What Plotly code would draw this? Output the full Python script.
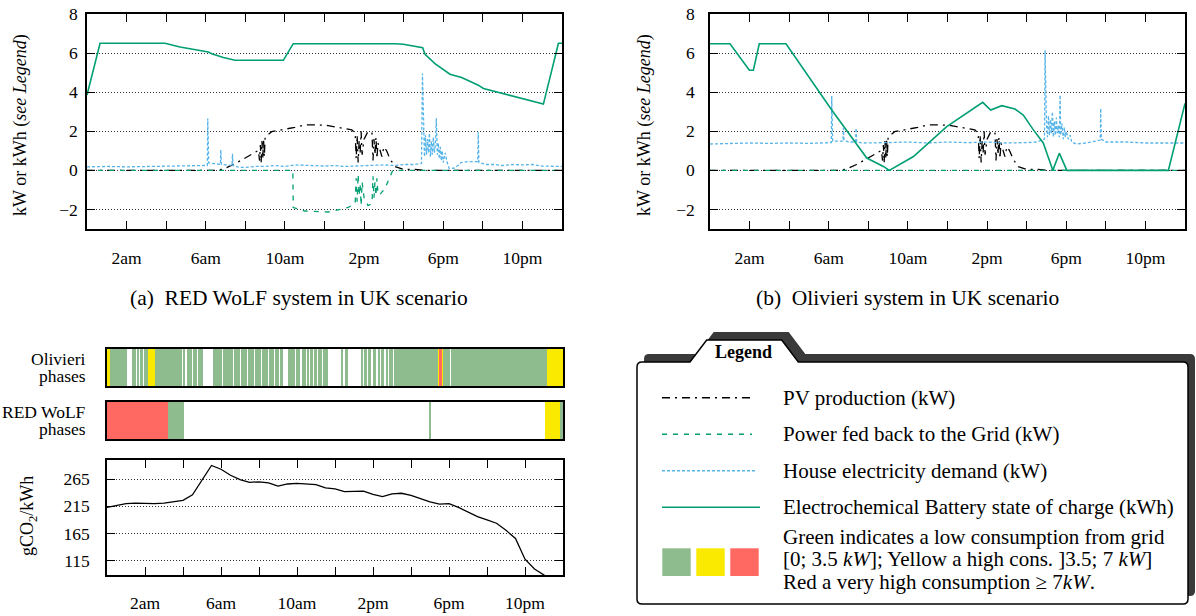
import plotly.graph_objects as go

W, H = 1196, 616
SERIF = "Liberation Serif"
GREEN = "#009E73"
BLUE = "#56B4E9"
PH_COLORS = {"G": "#8fbc8f", "Y": "#f9ea00", "R": "#ff6961"}

# ------------------------------------------------------------------ data
hour_ticks = [2, 4, 6, 8, 10, 12, 14, 16, 18, 20, 22]
hour_tick_labels = ["2am", "", "6am", "", "10am", "", "2pm", "", "6pm", "", "10pm"]
power_ticks = [-2, 0, 2, 4, 6, 8]
co2_ticks = [115, 165, 215, 265]

# PV production (kW), same for both systems
pv_hours = [0, 6.5, 6.9, 7.4, 7.9, 8.3, 8.66, 8.72, 8.76, 8.8, 8.84, 8.88, 8.92, 8.96, 9.0,
            9.33, 9.84, 10.5, 11.0, 11.6, 12.19, 12.87, 13.38, 13.55, 13.6, 13.65, 13.7, 13.75,
            13.8, 13.85, 13.9, 14.0, 14.2, 14.4, 14.45, 14.5, 14.55, 14.6, 14.65, 14.7, 14.8,
            14.9, 15.0, 15.14, 15.3, 15.56, 16.0, 16.57, 17.0, 24]
pv_kw = [0, 0, 0.07, 0.3, 0.58, 0.8, 1.02, 0.5, 1.3, 0.4, 1.5, 0.6, 1.6, 0.7, 1.7,
         1.98, 2.07, 2.2, 2.33, 2.33, 2.29, 2.16, 2.07, 1.9, 0.6, 1.8, 0.4, 1.5,
         0.9, 2.0, 0.8, 1.6, 2.0, 1.9, 0.5, 1.6, 0.8, 1.7, 0.6, 1.4, 1.0,
         0.7, 1.2, 1.0, 0.6, 0.2, 0.05, 0.05, 0, 0]

# RED WoLF system
redwolf_grid_hours = [0, 10.40, 10.42, 11.0, 12.2, 13.2, 13.55, 13.6, 13.65, 13.7, 13.75, 13.8,
                      13.85, 13.9, 14.0, 14.2, 14.4, 14.45, 14.5, 14.55, 14.6, 14.65, 14.7, 14.8,
                      14.9, 15.03, 15.45, 24]
redwolf_grid_kw = [0, 0, -1.9, -2.08, -2.13, -1.9, -1.7, -0.4, -1.6, -0.2, -1.3, -0.7,
                   -1.8, -0.6, -1.4, -1.8, -1.7, -0.3, -1.4, -0.6, -1.3, -0.4, -1.2, -1.25,
                   -1.1, -0.98, 0, 0]
redwolf_demand_hours = [0, 1, 2, 3, 4, 5, 6.08, 6.1, 6.12, 6.15, 6.4, 6.74, 6.76, 6.79, 7.0,
                        7.33, 7.35, 7.38, 7.7, 8.0, 8.5, 9.0, 9.5, 10.0, 10.5, 11.0, 11.5, 12.0,
                        12.5, 13.0, 13.5, 14.0, 14.5, 15.0, 15.5, 16.0, 16.5, 16.9, 16.95, 17.0,
                        17.05, 17.1, 17.15, 17.2, 17.25, 17.3, 17.35, 17.4, 17.45, 17.5, 17.55,
                        17.6, 17.65, 17.7, 17.75, 17.8, 17.85, 17.9, 17.95, 18.0, 18.1, 18.2,
                        18.3, 18.6, 18.9, 19.3, 19.74, 19.77, 19.8, 20.2, 20.6, 21.0, 21.5, 22.0,
                        22.5, 23.0, 23.5, 24]
redwolf_demand_kw = [0.18, 0.2, 0.18, 0.2, 0.2, 0.22, 0.25, 2.65, 0.4, 0.38, 0.35, 0.3, 1.05, 0.3, 0.28,
                     0.25, 0.85, 0.25, 0.15, 0.15, 0.2, 0.2, 0.25, 0.2, 0.28, 0.25, 0.25, 0.22,
                     0.25, 0.2, 0.22, 0.25, 0.25, 0.28, 0.25, 0.3, 0.3, 0.35, 4.95, 1.6,
                     0.7, 1.8, 0.8, 1.6, 0.9, 1.9, 0.7, 1.5, 0.8, 1.7, 0.9,
                     1.3, 2.67, 0.8, 1.4, 0.6, 1.2, 0.5, 1.0, 0.4, 0.9, 0.4,
                     0.1, 0.12, 0.4, 0.45, 0.45, 1.95, 0.4, 0.3, 0.3, 0.25, 0.3, 0.28,
                     0.3, 0.22, 0.2, 0.2]
redwolf_battery_hours = [0, 0.66, 3.94, 4.7, 6.13, 6.3, 6.89, 7.48, 9.92, 10.42, 15.56, 15.98,
                         16.96, 17.08, 17.58, 18.34, 18.93, 19.77, 20.03, 23.06, 23.82, 24]
redwolf_battery_kwh = [3.85, 6.5, 6.5, 6.31, 6.06, 5.97, 5.77, 5.63, 5.63, 6.48, 6.48, 6.45,
                       6.28, 5.94, 5.46, 4.92, 4.75, 4.36, 4.19, 3.39, 6.5, 6.5]

# Olivieri system
olivieri_grid_hours = [0, 24]
olivieri_grid_kw = [0, 0]
olivieri_demand_hours = [0, 1, 2, 3, 4, 5, 6.13, 6.15, 6.17, 6.2, 6.5, 6.72, 6.74, 6.77, 7.0,
                         7.36, 7.38, 7.41, 7.7, 8, 9, 10, 11, 12, 13, 14, 15, 16, 16.5,
                         16.9, 16.93, 17.0, 17.05, 17.1, 17.15, 17.2, 17.25, 17.3, 17.35,
                         17.4, 17.45, 17.5, 17.55, 17.6, 17.65, 17.69, 17.72, 17.78, 17.85,
                         17.9, 17.95, 18.0, 18.1, 18.2, 18.27, 18.5, 19.0, 19.5, 19.72,
                         19.74, 19.77, 20, 21, 22, 23, 24]
olivieri_demand_kw = [1.35, 1.38, 1.4, 1.38, 1.4, 1.38, 1.42, 3.8, 1.5, 1.5, 1.5, 1.5, 2.16, 1.55, 1.45,
                      1.45, 2.16, 1.45, 1.4, 1.4, 1.42, 1.45, 1.4, 1.45, 1.42, 1.45, 1.4, 1.42, 1.45,
                      1.6, 6.14, 2.4, 1.7, 2.8, 1.8, 2.6, 1.9, 3.0, 1.7,
                      2.5, 1.8, 2.7, 1.9, 2.3, 1.7, 3.85, 1.8, 2.4, 1.6,
                      2.2, 1.7, 2.0, 1.6, 1.8, 1.45, 1.35, 1.4, 1.5, 1.55,
                      3.17, 1.6, 1.45, 1.45, 1.4, 1.4, 1.4]
olivieri_battery_hours = [0, 1.01, 1.99, 2.19, 2.49, 3.84, 6.15, 7.92, 8.76, 9.06, 10.28, 11.96,
                          13.78, 14.18, 14.74, 15.41, 15.66, 15.83, 16.34, 16.84, 17.32, 17.65,
                          18.03, 23.16, 24]
olivieri_battery_kwh = [6.48, 6.48, 5.12, 5.12, 6.48, 6.48, 3.09, 0.63, 0.2, 0.0, 0.71, 2.24,
                        3.48, 3.09, 3.31, 3.14, 2.95, 2.83, 2.07, 1.4, 0, 0.88,
                        0, 0, 3.43]

# consumption phases: (start hour, end hour, level G/Y/R)
olivieri_phases = [
    (0.00, 0.16, "Y"), (0.16, 1.07, "G"), (1.30, 1.42, "G"), (1.47, 1.55, "G"), (1.61, 1.71, "G"),
    (1.76, 1.92, "G"), (1.97, 2.17, "G"), (2.17, 2.53, "Y"), (2.53, 3.93, "G"), (3.98, 4.11, "G"),
    (4.19, 4.46, "G"), (4.54, 4.72, "G"), (4.81, 5.07, "G"), (5.59, 5.87, "G"), (5.92, 6.07, "G"),
    (6.12, 6.63, "G"), (6.68, 6.98, "G"), (7.03, 7.36, "G"), (7.41, 7.72, "G"), (7.77, 8.09, "G"),
    (8.14, 8.47, "G"), (8.52, 8.77, "G"), (8.82, 9.05, "G"), (9.10, 9.28, "G"), (9.54, 9.66, "G"),
    (9.71, 9.89, "G"), (9.97, 10.16, "G"), (10.24, 10.45, "G"), (10.53, 10.63, "G"),
    (10.68, 10.84, "G"), (10.92, 11.05, "G"), (11.13, 11.32, "G"), (11.37, 11.63, "G"),
    (12.35, 12.44, "G"), (12.53, 12.66, "G"), (13.41, 13.49, "G"), (13.55, 13.68, "G"),
    (13.74, 13.92, "G"), (14.00, 14.16, "G"), (14.24, 14.37, "G"), (14.42, 14.58, "G"),
    (14.66, 14.79, "G"), (14.84, 15.05, "G"), (15.11, 17.44, "G"), (17.44, 17.49, "Y"),
    (17.49, 17.62, "R"), (17.62, 17.67, "Y"), (17.67, 18.03, "G"), (18.08, 23.14, "G"),
    (23.14, 24.00, "Y"),
]
redwolf_phases = [
    (0.00, 3.21, "R"), (3.21, 4.05, "G"), (16.95, 17.02, "G"), (23.05, 23.84, "Y"), (23.84, 24.00, "G"),
]

# carbon intensity of the grid (gCO2/kWh)
co2_hours = [0, 0.5, 1, 1.5, 2, 2.5, 3, 3.5, 4, 4.5, 5, 5.5, 6, 6.5, 7, 7.5, 8, 8.5, 9, 9.5,
             10, 10.5, 11, 11.5, 12, 12.5, 13, 13.5, 14, 14.5, 15, 15.5, 16, 16.5, 17, 17.5,
             18, 18.5, 19, 19.5, 20, 20.5, 21, 21.5, 22, 22.5, 23, 23.5]
co2_g_per_kwh = [213, 216, 220, 221, 220, 220, 221, 223, 226, 236, 262, 290, 283, 272, 264, 259,
                 260, 258, 252, 256, 257, 256, 255, 249, 247, 242, 242, 243, 237, 233, 238, 239,
                 235, 229, 223, 219, 220, 213, 205, 196, 190, 184, 171, 156, 118, 100, 89, 70]

legend_labels = ["PV production (kW)", "Power fed back to the Grid (kW)",
                 "House electricity demand (kW)", "Electrochemical Battery state of charge (kWh)"]


# ------------------------------------------------------------------ helpers
def px(x):
    return x / W


def py(y):
    return 1 - y / H


fig = go.Figure()

PV_DASH = "8px,5px,2px,5px"
GRID_DASH = "5px,6px"
DEM_DASH = "3px,2px"


def add_line(xa, ya, hours, vals, color, dash, width):
    fig.add_trace(go.Scatter(x=hours, y=vals, mode="lines", xaxis=xa, yaxis=ya,
                             line=dict(color=color, dash=dash, width=width),
                             showlegend=False, hoverinfo="skip"))


for xa, ya, grid_h, grid_v, dem_h, dem_v, bat_h, bat_v in [
    ("x", "y", redwolf_grid_hours, redwolf_grid_kw, redwolf_demand_hours, redwolf_demand_kw,
     redwolf_battery_hours, redwolf_battery_kwh),
    ("x2", "y2", olivieri_grid_hours, olivieri_grid_kw, olivieri_demand_hours, olivieri_demand_kw,
     olivieri_battery_hours, olivieri_battery_kwh),
]:
    add_line(xa, ya, pv_hours, pv_kw, "black", PV_DASH, 1.3)
    add_line(xa, ya, grid_h, grid_v, GREEN, GRID_DASH, 1.3)
    add_line(xa, ya, dem_h, dem_v, BLUE, DEM_DASH, 1.3)
    add_line(xa, ya, bat_h, bat_v, GREEN, "solid", 1.6)

# phase bars
for xa, ya, phases in [("x3", "y3", olivieri_phases), ("x4", "y4", redwolf_phases)]:
    for lvl in ["G", "Y", "R"]:
        segs = [(s, e) for s, e, l in phases if l == lvl]
        if not segs:
            continue
        fig.add_trace(go.Bar(orientation="h", y=[0] * len(segs), base=[s for s, e in segs],
                             x=[e - s for s, e in segs], width=1, xaxis=xa, yaxis=ya,
                             marker=dict(color=PH_COLORS[lvl], line=dict(width=0)),
                             showlegend=False, hoverinfo="skip"))

add_line("x5", "y5", co2_hours, co2_g_per_kwh, "black", "solid", 1.3)

# ------------------------------------------------------------------ axes
TICKFONT = dict(family=SERIF, size=17.5, color="black")


def xax(x0, x1, y_anchor, labels=True, standoff=6, **kw):
    d = dict(domain=[px(x0), px(x1)], anchor=y_anchor, range=[0, 24], showline=True,
             linecolor="black", linewidth=1.5, mirror="ticks", ticks="inside", ticklen=8,
             tickwidth=1, tickcolor="black", showgrid=False, zeroline=False,
             tickvals=hour_ticks, ticktext=hour_tick_labels, tickfont=TICKFONT,
             ticklabelstandoff=standoff, fixedrange=True, automargin=False)
    if not labels:
        d.update(ticks="", showticklabels=False, mirror=True, linewidth=2, tickvals=[],
                 ticktext=[])
    d.update(kw)
    return d


def yax(y0, y1, x_anchor, rng, ticks, standoff=6, grid=True):
    return dict(domain=[py(y1), py(y0)], anchor=x_anchor, range=rng, showline=True,
                linecolor="black", linewidth=1.5, mirror="ticks", ticks="inside", ticklen=8,
                tickwidth=1, tickcolor="black", showgrid=grid, gridcolor="#333333",
                griddash="1px,2px", gridwidth=1, zeroline=False, tickvals=ticks,
                tickfont=TICKFONT, ticklabelstandoff=standoff, fixedrange=True,
                automargin=False)


def bar_y(y0, y1, x_anchor):
    return dict(domain=[py(y1), py(y0)], anchor=x_anchor, range=[-0.5, 0.5], showline=True,
                linecolor="black", linewidth=2, mirror=True, ticks="", showticklabels=False,
                showgrid=False, zeroline=False, fixedrange=True, automargin=False)


layout = dict(
    template="none",
    width=W, height=H, autosize=False, margin=dict(l=0, r=0, t=0, b=0, pad=0),
    font=dict(family=SERIF, color="black", size=17.5),
    paper_bgcolor="white", plot_bgcolor="white", barmode="overlay", bargap=0,
    showlegend=False,
    xaxis=xax(87, 562, "y", standoff=12),
    yaxis=yax(14, 229, "x", [-3, 8], power_ticks, standoff=4),
    xaxis2=xax(710, 1185, "y2", standoff=12),
    yaxis2=yax(14, 229, "x2", [-3, 8], power_ticks, standoff=10),
    xaxis3=xax(107, 563, "y3", labels=False),
    yaxis3=bar_y(349, 386, "x3"),
    xaxis4=xax(107, 563, "y4", labels=False),
    yaxis4=bar_y(402, 439, "x4"),
    xaxis5=xax(107, 563, "y5", standoff=11),
    yaxis5=yax(460, 575, "x5", [89, 300], co2_ticks, standoff=12),
)

# ------------------------------------------------------------------ annotations
ann = []


def text(x, y, s, size=18, xanchor="center", yanchor="middle", angle=0):
    ann.append(dict(x=px(x), y=py(y), xref="paper", yref="paper", text=s, showarrow=False,
                    xanchor=xanchor, yanchor=yanchor, textangle=angle,
                    font=dict(family=SERIF, size=size, color="black")))


text(20, 125, "kW or kWh (<i>see Legend</i>)", size=18, angle=-90)
text(644, 125, "kW or kWh (<i>see Legend</i>)", size=18, angle=-90)
text(299, 298, "(a)\u00a0\u00a0RED WoLF system in UK scenario", size=21.5)
text(907, 298, "(b)\u00a0\u00a0Olivieri system in UK scenario", size=21.5)
text(87.5, 359, "Olivieri", size=17.5, xanchor="right")
text(87.5, 376, "phases", size=17.5, xanchor="right")
text(87.5, 412, "RED WoLF", size=17.5, xanchor="right")
text(87.5, 429, "phases", size=17.5, xanchor="right")
text(28, 516, "gCO<sub>2</sub>/kWh", size=18, angle=-90)

# legend box
shapes = []


def P(x, y):
    return f"{px(x):.5f},{py(y):.5f}"


def box_path(dx, dy):
    r = 5
    L, T, R, B = 637 + dx, 362 + dy, 1188 + dx, 604 + dy
    a, b, c, d = 690 + dx, 706.7 + dx, 781.7 + dx, 798.3 + dx
    tt = 340 + dy
    return (f"M {P(L, T + r)} Q {P(L, T)} {P(L + r, T)} L {P(a, T)} L {P(b, tt)} "
            f"L {P(c, tt)} L {P(d, T)} L {P(R - r, T)} Q {P(R, T)} {P(R, T + r)} "
            f"L {P(R, B - r)} Q {P(R, B)} {P(R - r, B)} L {P(L + r, B)} Q {P(L, B)} {P(L, B - r)} Z")


shapes.append(dict(type="path", xref="paper", yref="paper", path=box_path(7, -8),
                   fillcolor="#3a3a3a", line=dict(width=0)))
shapes.append(dict(type="path", xref="paper", yref="paper", path=box_path(0, 0),
                   fillcolor="white", line=dict(color="black", width=1.5)))

text(743, 352, "<b>Legend</b>", size=18)

legend_styles = [("black", PV_DASH, 1.5, 752), (GREEN, GRID_DASH, 1.5, 752),
                 (BLUE, DEM_DASH, 1.5, 757), (GREEN, "solid", 1.6, 760)]
legend_rows_y = [397.7, 434.3, 470.7, 507.3]
for (col, dash, wd, xend), yy, lab in zip(legend_styles, legend_rows_y, legend_labels):
    shapes.append(dict(type="line", xref="paper", yref="paper", x0=px(662), x1=px(xend),
                       y0=py(yy), y1=py(yy), line=dict(color=col, dash=dash, width=wd)))
    text(780.7, yy, lab, size=21, xanchor="left")

for x0, lvl in [(662.3, "G"), (696.3, "Y"), (730.3, "R")]:
    shapes.append(dict(type="rect", xref="paper", yref="paper", x0=px(x0), x1=px(x0 + 28.4),
                       y0=py(576), y1=py(548.3), fillcolor=PH_COLORS[lvl], line=dict(width=0)))

text(780.7, 536.7, "Green indicates a low consumption from grid", size=21, xanchor="left")
text(780.7, 559.3, "[0; 3.5 <i>kW</i>]; Yellow a high cons. ]3.5; 7 <i>kW</i>]", size=21, xanchor="left")
text(780.7, 581.7, "Red a very high consumption \u2265 7<i>kW</i>.", size=21, xanchor="left")

layout["annotations"] = ann
layout["shapes"] = shapes
fig.update_layout(**layout)

fig.write_html("out.html", config={"displayModeBar": False},
               post_script="document.body.style.margin='0';")
